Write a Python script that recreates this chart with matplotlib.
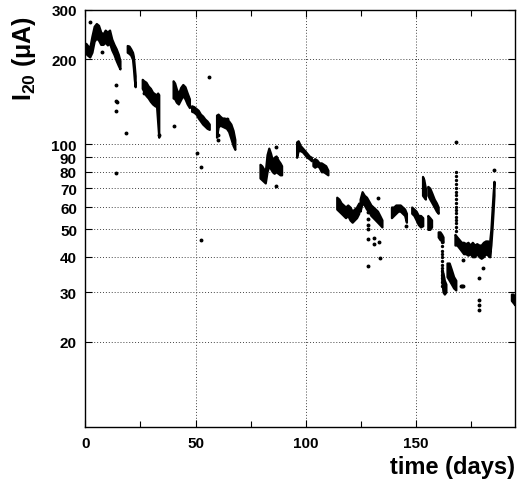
import matplotlib
matplotlib.use("Agg")
import matplotlib.pyplot as plt
from matplotlib.ticker import FixedLocator, NullLocator, NullFormatter

plt.rcParams['font.family'] = ['Liberation Sans', 'DejaVu Sans']
plt.rcParams['font.weight'] = 'bold'
plt.rcParams['mathtext.fontset'] = 'custom'
plt.rcParams['mathtext.rm'] = 'Liberation Sans:bold'
plt.rcParams['mathtext.default'] = 'rm'

# contiguous stretches of the current trace: day, lower and upper edge (uA)
seg1_day = [0.2, 1, 2, 3, 4, 5, 6, 7, 8, 9, 10, 11, 12, 13, 14, 15, 15.7]
seg1_lo  = [210, 207, 204, 212, 232, 238, 234, 226, 226, 230, 225, 228, 216, 208, 198, 190, 185]
seg1_hi  = [228, 224, 220, 242, 262, 268, 264, 250, 246, 254, 250, 254, 236, 226, 218, 208, 198]

seg2_day = [19.0, 19.8, 20.6, 21.4, 21.8, 22.2, 22.6]
seg2_lo  = [212, 210, 207, 200, 186, 170, 160]
seg2_hi  = [224, 223, 218, 212, 205, 190, 175]

seg3_day = [25.8, 26.5, 27.5, 28.5, 29.5, 30.5, 31.5, 32.3, 32.8, 33.3]
seg3_lo  = [158, 154, 149, 146, 142, 139, 137, 136, 120, 106]
seg3_hi  = [170, 168, 166, 161, 158, 153, 151, 150, 152, 150]

seg4_day = [39.8, 40.5, 41.3, 42.2, 43.2, 44.2, 45.2, 46.2, 47.2]
seg4_lo  = [146, 145, 141, 139, 144, 149, 145, 139, 135]
seg4_hi  = [168, 165, 157, 151, 159, 163, 160, 152, 145]

seg5_day = [48.2, 49.2, 50.2, 51.2, 52.2, 53.2, 54.2, 55.2, 56.2]
seg5_lo  = [131, 130, 128, 124, 121, 118, 116, 114, 113]
seg5_hi  = [137, 136, 134, 132, 128, 126, 123, 121, 118]

seg6_day = [59.5, 60.2, 61, 62, 63, 64, 65, 66, 67, 67.8]
seg6_lo  = [106, 115, 117, 116, 115, 114, 111, 105, 99, 96]
seg6_hi  = [127, 128, 126, 124, 124, 123, 121, 118, 112, 104]

seg7_day = [79.2, 80, 80.8, 81.6, 82.4, 83.2, 84, 84.8, 85.6, 86.5, 87.4, 88.3, 89]
seg7_lo  = [76, 75, 74, 73, 80, 84, 82, 80, 79, 80, 79, 78, 78]
seg7_hi  = [85, 84, 82, 80, 92, 97, 93, 88, 90, 91, 88, 86, 84]

seg8_day = [95.8, 96.5, 97.5, 98.5, 99.5, 100.5, 101.5, 102.5]
seg8_lo  = [90, 95, 95, 94, 92, 90, 89, 87.5]
seg8_hi  = [102, 103, 99, 97, 95, 93, 91, 90]

seg9_day = [103.2, 104, 105, 106, 107, 108, 109, 110]
seg9_lo  = [84, 83, 84, 83, 80, 80, 79, 78]
seg9_hi  = [88, 89, 88, 86, 86, 85, 84, 81]

seg10_day = [114, 115, 116, 117, 118, 119, 120, 121, 122, 123, 124]
seg10_lo  = [59, 58, 57, 56, 55, 56, 54, 53, 54, 55, 57]
seg10_hi  = [65, 64, 62, 61, 60, 61, 60, 58, 59, 60, 62]

seg11_day = [124.6, 125.5, 126.5, 127.5, 128.5, 129.5, 130.5, 131.5, 132.5, 133.5, 134.5]
seg11_lo  = [58, 62, 61, 59, 58, 56, 55, 54, 53, 52, 51]
seg11_hi  = [64, 68, 66, 65, 63, 61, 60, 59, 58, 56, 54]

seg12_day = [138.8, 139.8, 140.8, 141.8, 142.8, 143.8, 144.8, 145.6]
seg12_lo  = [55, 56, 57, 58, 58, 57, 56, 53]
seg12_hi  = [60, 60, 61, 61, 61, 60, 59, 57]

seg13_day = [148, 149, 150, 151, 152, 153]
seg13_lo  = [57, 56, 54, 52, 51, 51.5]
seg13_hi  = [60, 59, 58, 56, 56, 55]

seg14_day = [152.9, 153.5, 154.2]
seg14_lo  = [66, 65, 64]
seg14_hi  = [77, 75, 70]

seg15_day = [155.3, 156.2, 157.2, 158.2, 159.2, 160]
seg15_lo  = [66, 64, 62, 60, 58, 57]
seg15_hi  = [71, 70, 67, 64, 62, 60]

seg16_day = [155.3, 156.2, 157]
seg16_lo  = [50, 50, 51]
seg16_hi  = [56, 55, 54]

seg17_day = [160, 160.8, 161.6, 162.2]
seg17_lo  = [47, 46, 45.5, 45]
seg17_hi  = [49, 49, 48, 47]

seg18_day = [161.6, 162.2, 162.8, 163.5]
seg18_lo  = [33, 30, 29.5, 30]
seg18_hi  = [36, 35, 33, 32]

seg19_day = [164, 165, 166, 167, 168]
seg19_lo  = [34, 33, 32, 31, 30.5]
seg19_hi  = [38, 38, 36, 34, 33]

seg20_day = [167.6, 168.5, 169.5, 170.5, 171.5, 172.5, 173.5, 174.5, 175.5, 176.5,
             177.5, 178.5, 179.5, 180.5, 181.5, 182.5, 183.3]
seg20_lo  = [44, 44, 43, 42, 41, 41, 40.5, 41, 40, 40, 41, 40, 39.5, 40, 41, 40.5, 40]
seg20_hi  = [48, 47, 46, 45, 45, 44.5, 45, 44, 45, 44, 44.5, 44, 44, 45, 45.5, 45.5, 45]

seg21_day = [183.3, 183.9, 184.4, 184.9, 185.3]
seg21_lo  = [40, 44, 50, 58, 66]
seg21_hi  = [45, 50, 58, 67, 74]

seg22_day = [193.2, 194, 194.8]
seg22_lo  = [28, 27.5, 27]
seg22_hi  = [29.5, 29.5, 28.5]

# single readings away from the main trace
dot_day = [2.1, 7.4, 13.8, 13.8, 14.2, 13.8, 13.8, 18.4, 26.5, 33.3, 40.3, 50.5, 52.6,
           52.4, 56.3, 60.0, 60.2, 64.3, 86.4, 86.4, 128.0, 128.0, 128.0, 128.4, 128.0,
           131.0, 131.0, 133.0, 133.5, 128.0, 132.8, 145.3, 168.3, 170.2, 170.7, 171.2,
           171.3, 178.5, 178.5, 178.5, 178.5, 180.4, 185.2]
dot_val = [272, 213, 162, 143, 141, 131, 79, 110, 152, 108, 116, 93, 83,
           46, 173, 104, 108, 123, 97.6, 71, 57.4, 54.6, 52, 50, 46.2,
           46.7, 44.3, 45, 39.6, 37, 64.5, 51.5, 102, 31.4, 31.4, 31.4,
           38.8, 33.7, 28, 26.9, 25.8, 36.5, 81]

# two dotted vertical runs of readings
colA_day = 161.6
colA_val = [45, 43.5, 42, 41, 40, 38.5, 37.5, 36.5, 35.5, 34.5, 33.5, 32.5, 31.5]
colB_day = 168.3
colB_val = [80, 77.5, 75, 72.5, 70, 68, 66, 64, 62, 60, 58.5, 57, 55.5, 54, 52.5, 51, 49.5]

segments = [
    (seg1_day, seg1_lo, seg1_hi), (seg2_day, seg2_lo, seg2_hi), (seg3_day, seg3_lo, seg3_hi),
    (seg4_day, seg4_lo, seg4_hi), (seg5_day, seg5_lo, seg5_hi), (seg6_day, seg6_lo, seg6_hi),
    (seg7_day, seg7_lo, seg7_hi), (seg8_day, seg8_lo, seg8_hi), (seg9_day, seg9_lo, seg9_hi),
    (seg10_day, seg10_lo, seg10_hi), (seg11_day, seg11_lo, seg11_hi),
    (seg12_day, seg12_lo, seg12_hi), (seg13_day, seg13_lo, seg13_hi),
    (seg14_day, seg14_lo, seg14_hi), (seg15_day, seg15_lo, seg15_hi),
    (seg16_day, seg16_lo, seg16_hi), (seg17_day, seg17_lo, seg17_hi),
    (seg18_day, seg18_lo, seg18_hi), (seg19_day, seg19_lo, seg19_hi),
    (seg20_day, seg20_lo, seg20_hi), (seg21_day, seg21_lo, seg21_hi),
    (seg22_day, seg22_lo, seg22_hi),
]

Y_TICKS = [20, 30, 40, 50, 60, 70, 80, 90, 100, 200, 300]
X_TICKS = [0, 50, 100, 150]
X_MINOR = [25, 75, 125, 175]

fig = plt.figure(figsize=(5.19, 4.81), dpi=100)
ax = fig.add_axes([0.1644, 0.1108, 0.8286, 0.867])
ax.set_yscale("log")

for d, lo, hi in segments:
    ax.fill_between(d, lo, hi, color="black", edgecolor="black", linewidth=1.6, zorder=3)

ax.plot(dot_day, dot_val, "o", color="black", markersize=1.8, zorder=3)
ax.plot([colA_day] * len(colA_val), colA_val, "o", color="black", markersize=1.4, zorder=3)
ax.plot([colB_day] * len(colB_val), colB_val, "o", color="black", markersize=1.4, zorder=3)

ax.set_xlim(0, 195)
ax.set_ylim(10, 300)

ax.yaxis.set_major_locator(FixedLocator(Y_TICKS))
ax.yaxis.set_minor_locator(NullLocator())
ax.yaxis.set_minor_formatter(NullFormatter())
ax.set_yticklabels([str(t) for t in Y_TICKS])
ax.xaxis.set_major_locator(FixedLocator(X_TICKS))
ax.xaxis.set_minor_locator(FixedLocator(X_MINOR))

ax.tick_params(axis="both", which="both", direction="in", top=True, right=True,
               labelsize=11, width=0.8)
ax.tick_params(which="major", length=5)
ax.tick_params(which="minor", length=4)
ax.tick_params(axis="y", pad=6)
ax.tick_params(axis="x", pad=7)

for t in Y_TICKS[:-1]:
    ax.axhline(t, color="#444444", linestyle=(0, (1, 2)), linewidth=0.7, zorder=1)
for t in X_TICKS[1:]:
    ax.axvline(t, color="#444444", linestyle=(0, (1, 2)), linewidth=0.7, zorder=1)

for s in ax.spines.values():
    s.set_linewidth(1.0)

ax.set_ylabel("I$_{20}$ (μA)", fontsize=18, fontweight="bold")
ax.yaxis.set_label_coords(-0.11, 0.885)
ax.set_xlabel("time (days)", fontsize=17, fontweight="bold")
ax.xaxis.set_label_coords(0.853, -0.068)

fig.savefig("out.png", dpi=100)
